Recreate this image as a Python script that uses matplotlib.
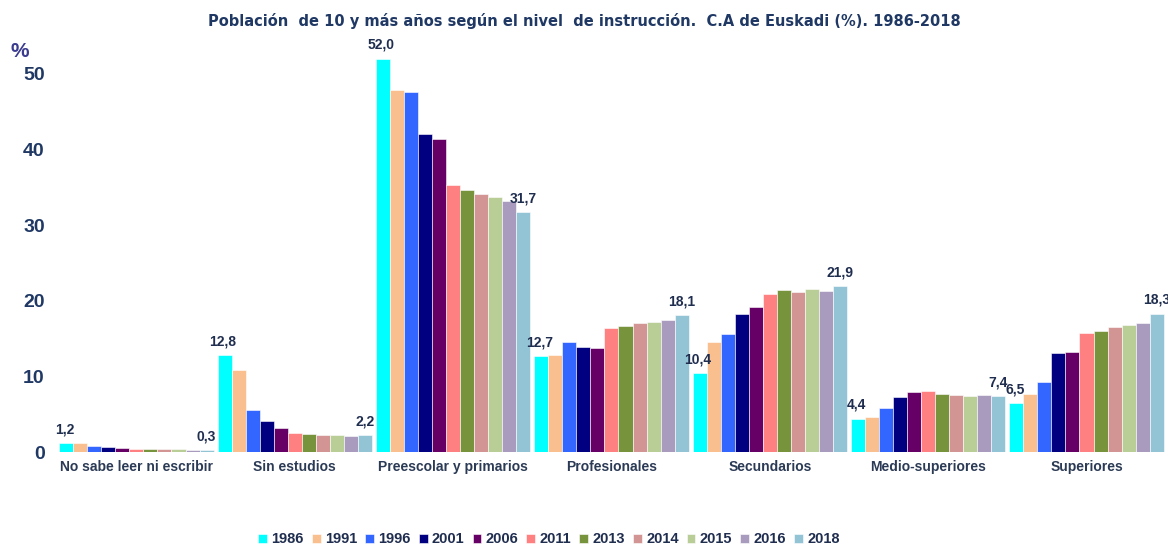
import numpy as np
import matplotlib
matplotlib.use('Agg')
import matplotlib.pyplot as plt

plt.rcParams['font.family'] = ['Liberation Sans', 'DejaVu Sans']

# Data (% of population aged 10+, by education level)
categories = ['No sabe leer ni escribir', 'Sin estudios', 'Preescolar y primarios',
              'Profesionales', 'Secundarios', 'Medio-superiores', 'Superiores']
years = ['1986', '1991', '1996', '2001', '2006', '2011', '2013', '2014', '2015', '2016', '2018']

v1986 = [1.2, 12.8, 52.0, 12.7, 10.4, 4.4, 6.5]
v1991 = [1.2, 10.8, 47.9, 12.8, 14.6, 4.6, 7.7]
v1996 = [0.8, 5.5, 47.6, 14.6, 15.6, 5.8, 9.3]
v2001 = [0.7, 4.1, 42.0, 13.9, 18.3, 7.3, 13.1]
v2006 = [0.6, 3.2, 41.4, 13.7, 19.2, 8.0, 13.2]
v2011 = [0.4, 2.5, 35.3, 16.4, 20.9, 8.1, 15.7]
v2013 = [0.4, 2.4, 34.7, 16.7, 21.4, 7.7, 16.0]
v2014 = [0.4, 2.2, 34.1, 17.1, 21.2, 7.6, 16.5]
v2015 = [0.4, 2.2, 33.7, 17.2, 21.5, 7.4, 16.8]
v2016 = [0.3, 2.1, 33.2, 17.5, 21.3, 7.6, 17.1]
v2018 = [0.3, 2.2, 31.7, 18.1, 21.9, 7.4, 18.3]

series = [v1986, v1991, v1996, v2001, v2006, v2011, v2013, v2014, v2015, v2016, v2018]
colors = ['#00FFFF', '#F9BF8F', '#3366FF', '#000080', '#660066', '#FF8080',
          '#77933C', '#D39494', '#B9CD96', '#A99BBD', '#93C4D5']

text_col = '#1F2D4F'

fig = plt.figure(figsize=(11.68, 5.46), dpi=100)
ax = fig.add_axes([0.049, 0.172, 0.949, 0.762])

n = len(series)
x = np.arange(len(categories))
w = 0.975 / n
for i, (vals, c, yr) in enumerate(zip(series, colors, years)):
    pos = x - 0.4875 + w * (i + 0.5)
    ax.bar(pos, vals, width=w, color=c, edgecolor='white', linewidth=0.4, label=yr)
    # labels only on first and last year
    if i == 0 or i == n - 1:
        for p, v in zip(pos, vals):
            ax.text(p - (0.01 if i == 0 else 0), v + 0.9, f'{v:.1f}'.replace('.', ','),
                    ha='center', va='bottom', fontsize=10, fontweight='bold', color=text_col)

ax.set_xlim(-0.5, len(categories) - 0.5)
ax.set_ylim(0, 55)
ax.set_yticks([0, 10, 20, 30, 40, 50])
ax.set_xticks(x)
ax.set_xticklabels(categories, fontsize=10, fontweight='bold', color='#2B3A55')
for lbl in ax.get_yticklabels():
    lbl.set_fontsize(14)
    lbl.set_fontweight('bold')
    lbl.set_color('#1F3864')
ax.tick_params(axis='both', length=0)
ax.tick_params(axis='y', pad=9)
ax.tick_params(axis='x', pad=6)
for s in ax.spines.values():
    s.set_visible(False)

fig.text(0.009, 0.895, '%', fontsize=15, fontweight='bold', color='#3B3B8F')
fig.text(0.5, 0.962, 'Población  de 10 y más años según el nivel  de instrucción.  C.A de Euskadi (%). 1986-2018',
         ha='center', va='center', fontsize=10.5, fontweight='bold', color='#1F3864',
         family='DejaVu Sans')

leg = fig.legend(loc='center', bbox_to_anchor=(0.47, 0.012), ncol=11, frameon=False,
                 handlelength=0.6, handleheight=0.6, handletextpad=0.3, columnspacing=0.55,
                 prop={'weight': 'bold', 'size': 10.5})
for t in leg.get_texts():
    t.set_color('#1F2D4F')

fig.savefig('out.png', dpi=100)
